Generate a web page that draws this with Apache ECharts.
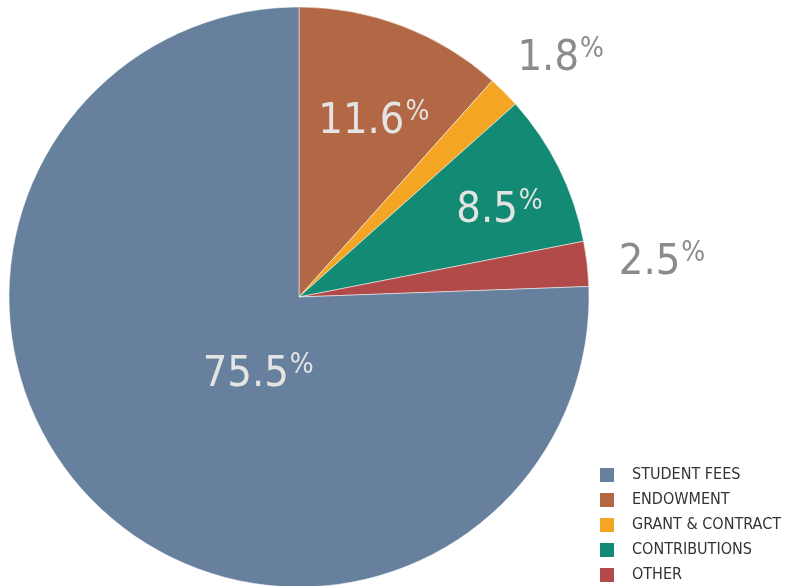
<!DOCTYPE html>
<html><head><meta charset="utf-8">
<script src="https://cdn.jsdelivr.net/npm/echarts@6/dist/echarts.min.js"></script>
<style>html,body{margin:0;padding:0;background:#fff;}#c{width:793px;height:586px;}</style>
</head><body><div id="c"></div>
<script>
const categories = ['ENDOWMENT', 'GRANT & CONTRACT', 'CONTRIBUTIONS', 'OTHER', 'STUDENT FEES'];
const values = [11.6, 1.8, 8.5, 2.5, 75.5];
const legendOrder = ['STUDENT FEES', 'ENDOWMENT', 'GRANT & CONTRACT', 'CONTRIBUTIONS', 'OTHER'];
const colors = {'STUDENT FEES':'#66809e','ENDOWMENT':'#b36845','GRANT & CONTRACT':'#f5a524','CONTRIBUTIONS':'#138a74','OTHER':'#b34a4a'};
const labelOffsets = {'ENDOWMENT':[22,-37],'GRANT & CONTRACT':[157,-134],'CONTRIBUTIONS':[68,-20],'OTHER':[216,-17],'STUDENT FEES':[62,-29]};
const outside = {'GRANT & CONTRACT':true,'OTHER':true};
const FONT = '"DejaVu Sans Condensed", "Liberation Sans Narrow", sans-serif';

const chart = echarts.init(document.getElementById('c'));
chart.setOption({
  animation:false,
  legend:{orient:'vertical', left:598, top:466, height:160, itemWidth:16, itemHeight:16, itemGap:7,
    icon:'rect', data:legendOrder, padding:0,
    textStyle:{fontFamily:FONT, fontSize:16, lineHeight:16, color:'#333', padding:[0,0,0,12]}},
  series:[{
    type:'pie', center:[299,297], radius:290, startAngle:90, clockwise:true,
    itemStyle:{borderColor:'#fff', borderWidth:0.5},
    labelLine:{show:false},
    data: categories.map((c,i)=>({name:c, value:values[i],
      itemStyle:{color:colors[c]},
      label:{show:true, position:'inside', offset:labelOffsets[c],
        formatter: p=>'{a|'+p.value.toFixed(1)+'}{b|%}',
        rich:{
          a:{fontFamily:FONT, fontSize:43, color: outside[c]?'#8b8b8d':'#e4e4e4', lineHeight:46},
          b:{fontFamily:FONT, fontSize:28, color: outside[c]?'#8b8b8d':'#e4e4e4', verticalAlign:'top', lineHeight:46, padding:[0,0,16,1]}
        }}
    }))
  }]
});
</script></body></html>
